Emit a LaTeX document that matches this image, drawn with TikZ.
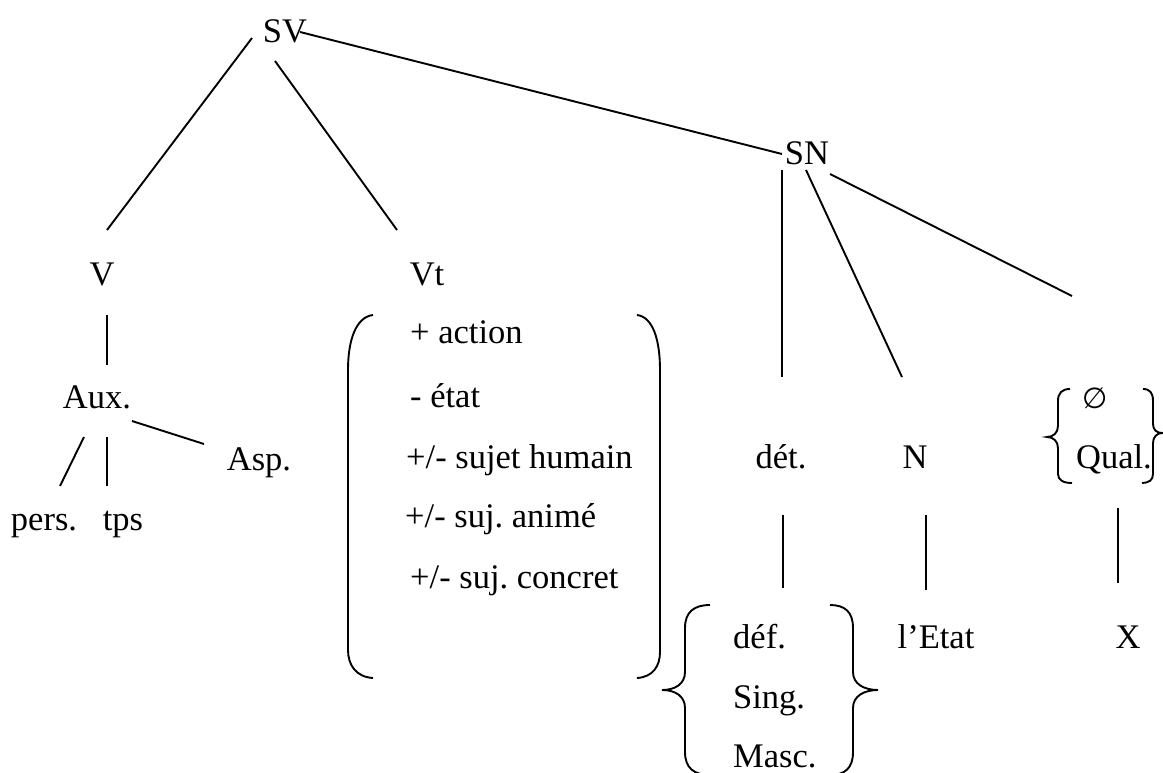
\documentclass[tikz,border=0pt]{standalone}
\usepackage{fontspec}
\setmainfont{Liberation Serif}
\newfontfamily\symfont{DejaVu Sans}
\frenchspacing
\begin{document}
\begin{tikzpicture}[x=1pt,y=-1pt,
  lbl/.style={anchor=base,inner sep=0pt,font=\fontsize{34.5}{41}\selectfont},
  feat/.style={anchor=base west,inner sep=0pt,font=\fontsize{34.5}{41}\selectfont},
  edge/.style={line width=1.9pt},
  brk/.style={line width=1.9pt}]
\useasboundingbox (0,0) rectangle (1163,773);
% nodes
\node[lbl] (SV) at (285,43) {SV};
\node[lbl] (V) at (102,285) {V};
\node[lbl] (Vt) at (427,285) {Vt};
\node[lbl] (SN) at (807,165) {SN};
\node[lbl] (Aux) at (97,408) {Aux.};
\node[lbl] (pers) at (44,530) {pers.};
\node[lbl] (tps) at (123,530) {tps};
\node[lbl] (Asp) at (259,470) {Asp.};
\node[feat] (f1) at (410,343) {+ action};
\node[feat] (f2) at (410,407) {- état};
\node[feat] (f3) at (406,468) {+/- sujet humain};
\node[feat] (f4) at (405,527) {+/- suj. animé};
\node[feat] (f5) at (410,588) {+/- suj. concret};
\node[lbl] (det) at (781,468) {dét.};
\node[lbl] (N) at (915,468) {N};
\node[anchor=base,inner sep=0pt,font=\symfont\fontsize{29}{34}\selectfont] (empty) at (1095,408) {∅};
\node[lbl] (Qual) at (1114,468) {Qual.};
\node[feat] (def) at (733,648) {déf.};
\node[feat] (Sing) at (733,708) {Sing.};
\node[feat] (Masc) at (733,767) {Masc.};
\node[lbl] (Etat) at (936,648) {l’Etat};
\node[lbl] (X) at (1128,648) {X};
% connectors
\draw[edge] ([shift={(-33,-5)}]SV.base) -- ([shift={(5,-55)}]V.base);
\draw[edge] ([shift={(-10,18)}]SV.base) -- ([shift={(-30,-55)}]Vt.base);
\draw[edge] ([shift={(15,-11)}]SV.base) -- ([shift={(-25,-11)}]SN.base);
\draw[edge] ([shift={(-25,5)}]SN.base) -- ([shift={(1,-91)}]det.base);
\draw[edge] ([shift={(-1,5)}]SN.base) -- ([shift={(-13,-91)}]N.base);
\draw[edge] ([shift={(23,9)}]SN.base) -- ([shift={(-23,-112)}]empty.base);
\draw[edge] ([shift={(5,30)}]V.base) -- ([shift={(10,-43)}]Aux.base);
\draw[edge] ([shift={(-13,29)}]Aux.base) -- ([shift={(16,-44)}]pers.base);
\draw[edge] ([shift={(10,29)}]Aux.base) -- ([shift={(-16,-44)}]tps.base);
\draw[edge] ([shift={(35,13)}]Aux.base) -- ([shift={(-55,-26)}]Asp.base);
\draw[edge] ([shift={(2,47)}]det.base) -- ([shift={(50,-60)}]def.base west);
\draw[edge] ([shift={(11,47)}]N.base) -- ([shift={(-10,-58)}]Etat.base);
\draw[edge] ([shift={(4,40)}]Qual.base) -- ([shift={(-10,-65)}]X.base);
% parentheses around the features of Vt
\draw[brk] (373,315) .. controls (356,317) and (348,340) .. (348,370) -- (348,650)
  .. controls (348,665) and (356,677) .. (373,678);
\draw[brk] (637,315) .. controls (653,317) and (660,340) .. (660,370) -- (660,652)
  .. controls (660,666) and (653,677) .. (637,678);
% brace around déf. Sing. Masc.
\draw[brk] (710,605) .. controls (694,605) and (685,612) .. (685,628) -- (685,672)
  .. controls (685,684) and (675,690) .. (662,690)
  .. controls (675,690) and (685,696) .. (685,708) -- (685,752)
  .. controls (685,768) and (694,775) .. (710,775);
\draw[brk] (830,605) .. controls (845,605) and (853,612) .. (853,628) -- (853,672)
  .. controls (853,684) and (864,690) .. (878,690)
  .. controls (864,690) and (853,696) .. (853,708) -- (853,752)
  .. controls (853,768) and (845,775) .. (830,775);
% brace around the empty set and Qual.
\draw[brk] (1070,389) .. controls (1062,389) and (1058,393) .. (1058,401) -- (1058,426)
  .. controls (1058,433) and (1053,437) .. (1047,437)
  .. controls (1053,437) and (1058,441) .. (1058,448) -- (1058,474)
  .. controls (1058,480) and (1063,483) .. (1072,483);
\draw[brk] (1143,389) .. controls (1150,389) and (1153,393) .. (1153,401) -- (1153,424)
  .. controls (1153,430) and (1157,433) .. (1162,433)
  .. controls (1157,433) and (1153,437) .. (1153,443) -- (1153,474)
  .. controls (1153,480) and (1149,483) .. (1142,483);
\end{tikzpicture}
\end{document}
